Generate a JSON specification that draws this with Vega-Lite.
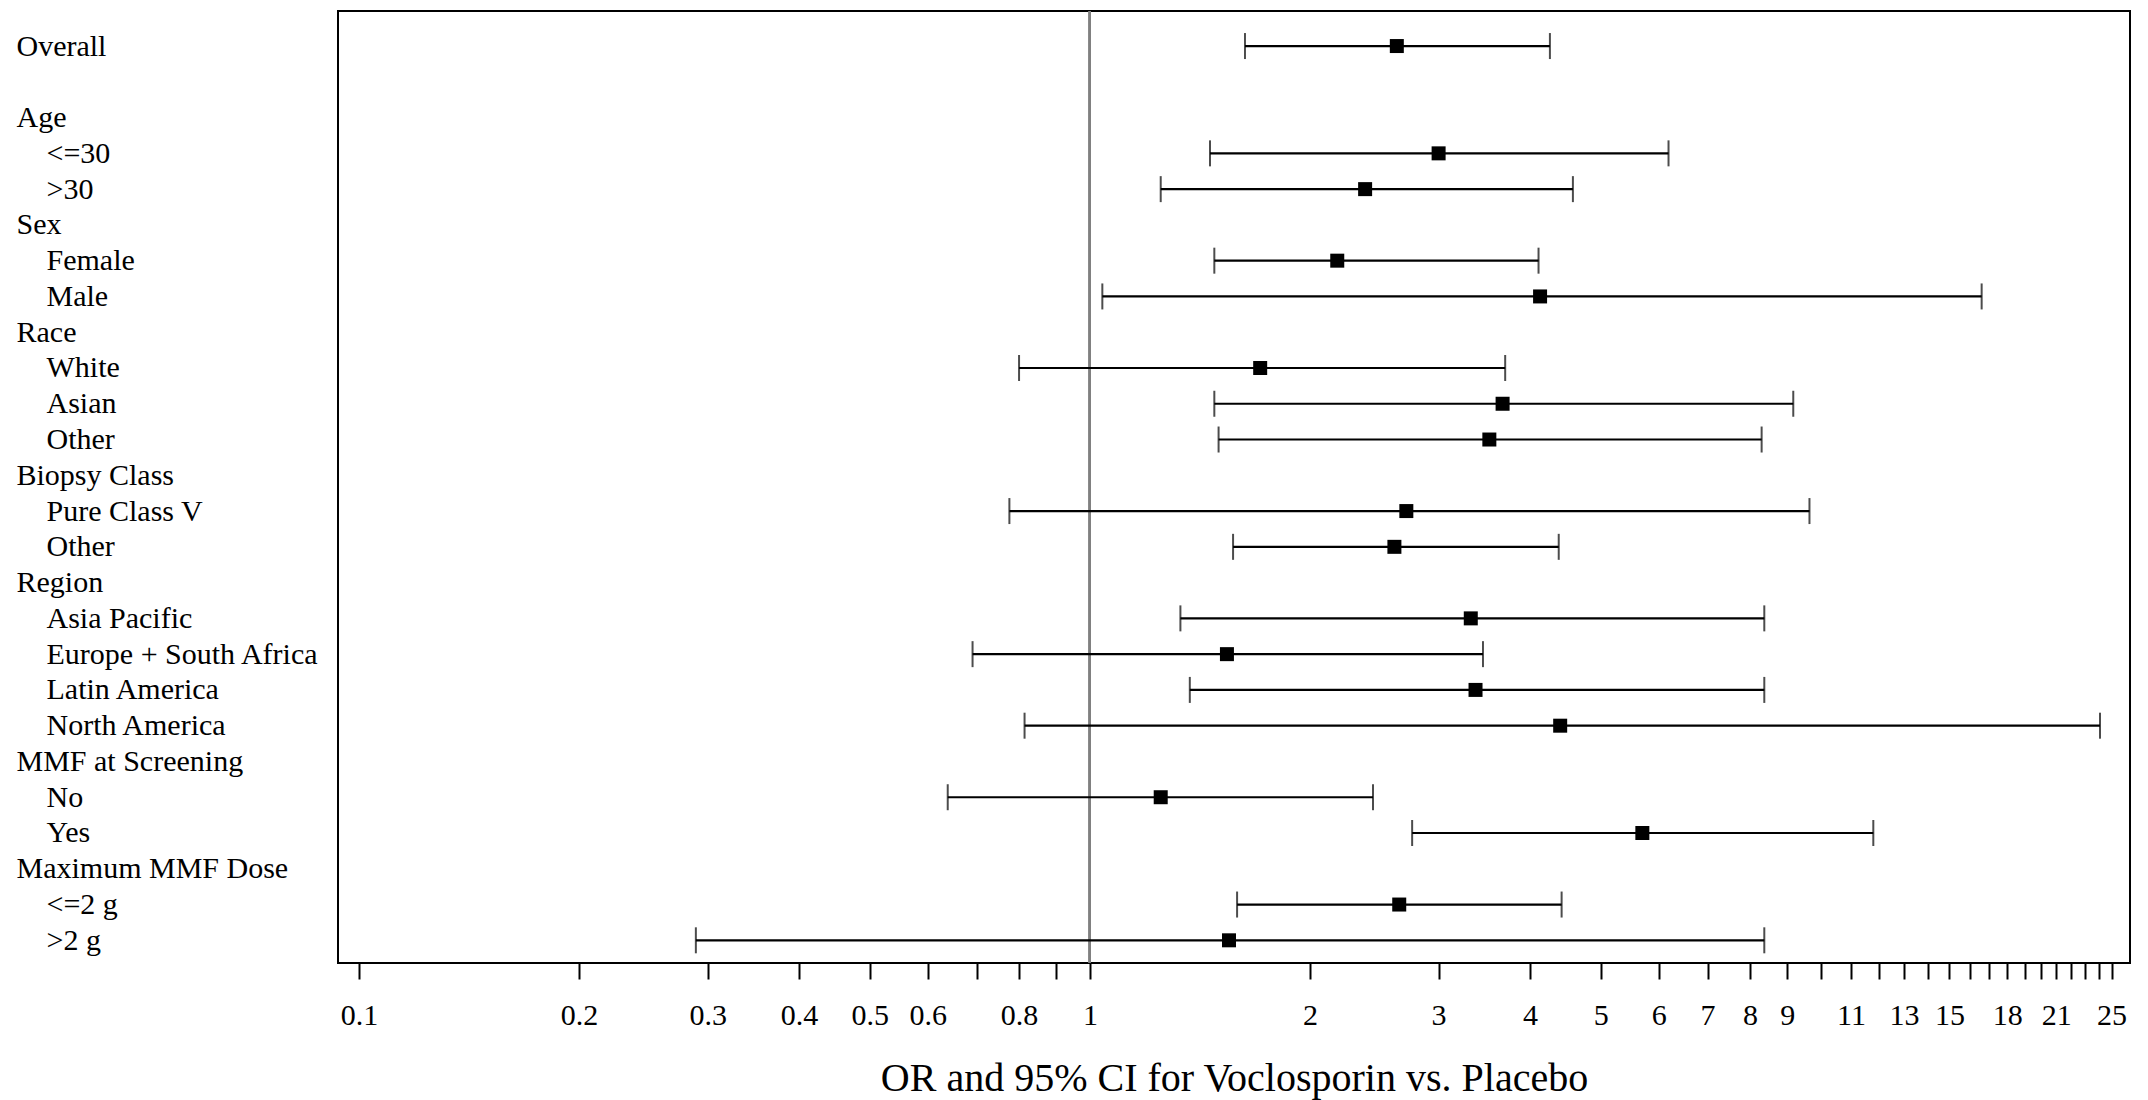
{
  "$schema": "https://vega.github.io/schema/vega-lite/v6.json",
  "width": 1792,
  "height": 952,
  "padding": {"left": 16, "top": 10, "right": 10, "bottom": 10},
  "background": "white",
  "config": {
    "view": {"stroke": "black", "strokeWidth": 2},
    "font": "Liberation Serif"
  },
  "data": {
    "values": [
      {"label": "Overall", "or": 2.63, "low": 1.63, "high": 4.26},
      {"label": "\u200b\u00a0\u00a0\u00a0\u00a0<=30", "or": 3.0, "low": 1.46, "high": 6.19},
      {"label": "\u200b\u00a0\u00a0\u00a0\u00a0>30", "or": 2.38, "low": 1.25, "high": 4.58},
      {"label": "\u200b\u00a0\u00a0\u00a0\u00a0Female", "or": 2.18, "low": 1.48, "high": 4.11},
      {"label": "\u200b\u00a0\u00a0\u00a0\u00a0Male", "or": 4.13, "low": 1.04, "high": 16.6},
      {"label": "\u200b\u00a0\u00a0\u00a0\u00a0White", "or": 1.71, "low": 0.80, "high": 3.70},
      {"label": "\u200b\u00a0\u00a0\u00a0\u00a0Asian", "or": 3.67, "low": 1.48, "high": 9.17},
      {"label": "\u200b\u00a0\u00a0\u00a0\u00a0Other", "or": 3.52, "low": 1.50, "high": 8.30},
      {"label": "\u200b\u00a0\u00a0\u00a0\u00a0Pure Class V", "or": 2.71, "low": 0.776, "high": 9.65},
      {"label": "\u200b\u00a0\u00a0\u00a0\u00a0Other\u00a0", "or": 2.61, "low": 1.57, "high": 4.38},
      {"label": "\u200b\u00a0\u00a0\u00a0\u00a0Asia Pacific", "or": 3.32, "low": 1.33, "high": 8.37},
      {"label": "\u200b\u00a0\u00a0\u00a0\u00a0Europe + South Africa", "or": 1.54, "low": 0.691, "high": 3.45},
      {"label": "\u200b\u00a0\u00a0\u00a0\u00a0Latin America", "or": 3.37, "low": 1.37, "high": 8.37},
      {"label": "\u200b\u00a0\u00a0\u00a0\u00a0North America", "or": 4.40, "low": 0.814, "high": 24.1},
      {"label": "\u200b\u00a0\u00a0\u00a0\u00a0No", "or": 1.25, "low": 0.639, "high": 2.44},
      {"label": "\u200b\u00a0\u00a0\u00a0\u00a0Yes", "or": 5.70, "low": 2.76, "high": 11.8},
      {"label": "\u200b\u00a0\u00a0\u00a0\u00a0<=2 g", "or": 2.65, "low": 1.59, "high": 4.42},
      {"label": "\u200b\u00a0\u00a0\u00a0\u00a0>2 g", "or": 1.55, "low": 0.289, "high": 8.37}
    ]
  },
  "encoding": {
    "y": {
      "field": "label",
      "type": "nominal",
      "scale": {
        "type": "point",
        "domain": ["Overall", "\u00a0", "Age", "\u200b\u00a0\u00a0\u00a0\u00a0<=30", "\u200b\u00a0\u00a0\u00a0\u00a0>30", "Sex", "\u200b\u00a0\u00a0\u00a0\u00a0Female", "\u200b\u00a0\u00a0\u00a0\u00a0Male", "Race", "\u200b\u00a0\u00a0\u00a0\u00a0White", "\u200b\u00a0\u00a0\u00a0\u00a0Asian", "\u200b\u00a0\u00a0\u00a0\u00a0Other", "Biopsy Class", "\u200b\u00a0\u00a0\u00a0\u00a0Pure Class V", "\u200b\u00a0\u00a0\u00a0\u00a0Other\u00a0", "Region", "\u200b\u00a0\u00a0\u00a0\u00a0Asia Pacific", "\u200b\u00a0\u00a0\u00a0\u00a0Europe + South Africa", "\u200b\u00a0\u00a0\u00a0\u00a0Latin America", "\u200b\u00a0\u00a0\u00a0\u00a0North America", "MMF at Screening", "\u200b\u00a0\u00a0\u00a0\u00a0No", "\u200b\u00a0\u00a0\u00a0\u00a0Yes", "Maximum MMF Dose", "\u200b\u00a0\u00a0\u00a0\u00a0<=2 g", "\u200b\u00a0\u00a0\u00a0\u00a0>2 g"],
        "padding": 0.807,
        "align": 0.607
      },
      "axis": {
        "title": null,
        "orient": "left",
        "ticks": false,
        "domain": false,
        "grid": false,
        "labelAlign": "left",
        "labelBaseline": "middle",
        "labelPadding": 322,
        "labelFont": "Liberation Serif",
        "labelFontSize": 30,
        "labelColor": "black",
        "labelLimit": 0,
        "labelOverlap": false
      }
    }
  },
  "layer": [
    {
      "mark": {"type": "rule", "color": "#808080", "strokeWidth": 2},
      "encoding": {
        "x": {"datum": 1, "type": "quantitative"},
        "y": null
      }
    },
    {
      "mark": {"type": "rule", "color": "black", "strokeWidth": 2.2},
      "encoding": {
        "x": {
          "field": "low",
          "type": "quantitative",
          "scale": {"type": "log", "domain": [0.0936, 26.49], "nice": false, "zero": false},
          "axis": {
            "title": "OR and 95% CI for Voclosporin vs. Placebo",
            "values": [0.1, 0.2, 0.3, 0.4, 0.5, 0.6, 0.7, 0.8, 0.9, 1, 2, 3, 4, 5, 6, 7, 8, 9, 10, 11, 12, 13, 14, 15, 16, 17, 18, 19, 20, 21, 22, 23, 24, 25],
            "format": "~g",
            "labelExpr": "indexof([0.7, 0.9, 10, 12, 14, 16, 17, 19, 20, 22, 23, 24], datum.value) >= 0 ? '' : datum.label",
            "grid": false,
            "domain": false,
            "ticks": true,
            "tickSize": 16,
            "tickWidth": 2,
            "tickColor": "black",
            "labelPadding": 21,
            "labelFont": "Liberation Serif",
            "labelFontSize": 30,
            "labelColor": "black",
            "labelOverlap": false,
            "labelFlush": false,
            "titleFont": "Liberation Serif",
            "titleFontSize": 40,
            "titleFontWeight": "normal",
            "titleColor": "black",
            "titlePadding": 28
          }
        },
        "x2": {"field": "high"}
      }
    },
    {
      "mark": {"type": "tick", "orient": "vertical", "color": "black", "size": 26, "thickness": 2},
      "encoding": {"x": {"field": "low", "type": "quantitative"}}
    },
    {
      "mark": {"type": "tick", "orient": "vertical", "color": "black", "size": 26, "thickness": 2},
      "encoding": {"x": {"field": "high", "type": "quantitative"}}
    },
    {
      "mark": {"type": "point", "shape": "square", "filled": true, "color": "black", "size": 196, "opacity": 1},
      "encoding": {"x": {"field": "or", "type": "quantitative"}}
    }
  ]
}
